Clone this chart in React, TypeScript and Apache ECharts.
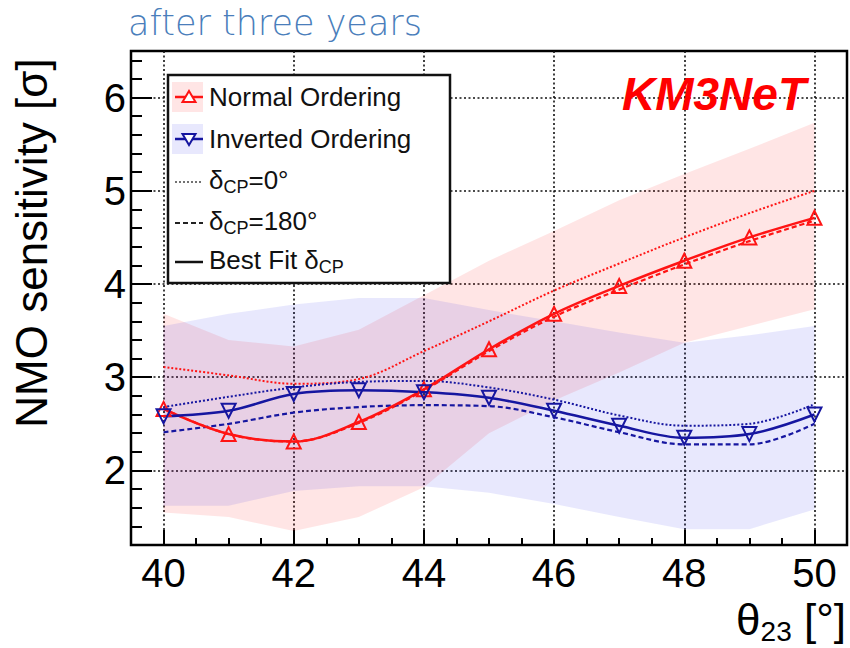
import React, { useEffect, useRef } from "react";
import * as echarts from "echarts";

// ---- data ----
const thetaDeg = [40, 41, 42, 43, 44, 45, 46, 47, 48, 49, 50];

// Normal ordering
const noBest = [2.66, 2.39, 2.31, 2.52, 2.87, 3.3, 3.68, 3.98, 4.25, 4.5, 4.71];
const noDelta0 = [3.11, 3.02, 2.93, 2.98, 3.28, 3.6, 3.93, 4.22, 4.5, 4.76, 5.0];
const noDelta180 = [2.66, 2.39, 2.31, 2.51, 2.86, 3.28, 3.65, 3.94, 4.21, 4.46, 4.68];
const noBandLow = [1.55, 1.5, 1.35, 1.5, 1.82, 2.4, 2.75, 3.05, 3.37, 3.55, 3.73];
const noBandHigh = [3.68, 3.4, 3.33, 3.51, 3.88, 4.25, 4.57, 4.9, 5.18, 5.45, 5.73];

// Inverted ordering
const ioBest = [2.58, 2.64, 2.82, 2.86, 2.84, 2.78, 2.64, 2.48, 2.35, 2.39, 2.6];
const ioDelta0 = [2.68, 2.79, 2.89, 2.95, 2.96, 2.89, 2.76, 2.59, 2.48, 2.5, 2.71];
const ioDelta180 = [2.41, 2.5, 2.62, 2.68, 2.7, 2.69, 2.57, 2.41, 2.28, 2.28, 2.5];
const ioBandLow = [1.62, 1.62, 1.78, 1.83, 1.83, 1.76, 1.64, 1.5, 1.37, 1.37, 1.58];
const ioBandHigh = [3.55, 3.68, 3.78, 3.85, 3.85, 3.72, 3.6, 3.48, 3.37, 3.45, 3.55];

// ticks
const xMajor = [40, 42, 44, 46, 48, 50];
const xMinor = [40.5, 41, 41.5, 42.5, 43, 43.5, 44.5, 45, 45.5, 46.5, 47, 47.5, 48.5, 49, 49.5];
const yMajor = [2, 3, 4, 5, 6];
const yMinor = [1.4, 1.6, 1.8, 2.2, 2.4, 2.6, 2.8, 3.2, 3.4, 3.6, 3.8, 4.2, 4.4, 4.6, 4.8, 5.2, 5.4, 5.6, 5.8, 6.2, 6.4];

const titleText = "after three years";
const yTitle = "NMO sensitivity [σ]";
const brand = "KM3NeT";

const FONT = "Liberation Sans";
const RED = "#ff1414";
const BLUE = "#1616a0";
const RED_FILL = "rgba(255,0,0,0.10)";
const BLUE_FILL = "rgba(0,0,235,0.09)";

function pairs(ys: number[]) {
  return thetaDeg.map((x, i) => [x, ys[i]]);
}

function band(name: string, low: number[], high: number[], fill: string) {
  return {
    type: "custom",
    name,
    silent: true,
    z: 1,
    clip: true,
    data: [[thetaDeg[0], low[0]]],
    encode: { x: 0, y: 1 },
    renderItem: (_params: any, api: any) => {
      const up = thetaDeg.map((x, i) => api.coord([x, high[i]]));
      const dn = thetaDeg.map((x, i) => api.coord([x, low[i]])).reverse();
      return {
        type: "polygon",
        shape: { points: up.concat(dn) },
        style: { fill, stroke: "none" },
      };
    },
  };
}

function line(name: string, ys: number[], color: string, type: any, width: number, marker: boolean, rotate: number) {
  return {
    type: "line",
    name,
    data: pairs(ys),
    smooth: 0.35,
    z: marker ? 4 : 3,
    symbol: marker ? "triangle" : "none",
    symbolSize: 14,
    symbolRotate: rotate,
    showSymbol: marker,
    lineStyle: { color, width, type },
    itemStyle: { color: "rgba(255,255,255,0)", borderColor: color, borderWidth: 2 },
    emphasis: { disabled: true },
  };
}

const LZ = 50;

function legendText(x: number, y: number, text: string) {
  return {
    type: "text",
    x,
    y,
    z: LZ + 2,
    style: {
      text,
      align: "left",
      verticalAlign: "middle",
      textAlign: "left",
      textVerticalAlign: "middle",
      rich: {
        a: { fontSize: 26, fontFamily: FONT, fill: "#111", lineHeight: 32 },
        s: { fontSize: 18, fontFamily: FONT, fill: "#111", lineHeight: 18, verticalAlign: "bottom" },
      },
    },
  };
}

function hline(y: number, stroke: string, lineWidth: number, lineDash?: number[]) {
  return {
    type: "polyline",
    z: LZ + 1,
    shape: { points: [[175, y], [203, y]] },
    style: { stroke, lineWidth, lineDash, fill: "none" },
  };
}

export default function App() {
  const ref = useRef<HTMLDivElement>(null);
  useEffect(() => {
    if (!ref.current) return;
    const chart = echarts.init(ref.current, undefined, { renderer: "svg" });
    const rowY = [97, 139, 182, 223, 262];
    const tx = 209;
    const option: any = {
      animation: false,
      backgroundColor: "#fff",
      title: {
        text: titleText,
        left: 128,
        top: 5,
        padding: 0,
        textStyle: { fontFamily: "DejaVu Sans", fontWeight: 200, fontSize: 35, color: "#4a7ebb" },
      },
      grid: {
        left: 131,
        right: 3,
        top: 51,
        bottom: 103,
        show: true,
        borderColor: "#000",
        borderWidth: 2.5,
        backgroundColor: "rgba(0,0,0,0)",
        containLabel: false,
        outerBoundsMode: "none",
      },
      xAxis: [
        {
          type: "value",
          min: 39.5,
          max: 50.5,
          position: "bottom",
          axisLine: { show: false },
          axisTick: { show: true, inside: true, length: 15, customValues: xMajor, lineStyle: { color: "#000", width: 2 } },
          axisLabel: { show: true, customValues: xMajor, margin: 8, fontSize: 40, color: "#000", fontFamily: FONT },
          splitLine: { show: true, lineStyle: { color: "#111", width: 1.6, type: [2, 2.5] } },
        },
        {
          type: "value",
          min: 39.5,
          max: 50.5,
          position: "bottom",
          axisLine: { show: false },
          axisTick: { show: true, inside: true, length: 7, customValues: xMinor, lineStyle: { color: "#000", width: 2 } },
          axisLabel: { show: false },
          splitLine: { show: false },
        },
      ],
      yAxis: [
        {
          type: "value",
          min: 1.2,
          max: 6.5,
          position: "left",
          axisLine: { show: false },
          axisTick: { show: true, inside: true, length: 21, customValues: yMajor, lineStyle: { color: "#000", width: 2 } },
          axisLabel: { show: true, customValues: yMajor, margin: 5, fontSize: 40, color: "#000", fontFamily: FONT },
          splitLine: { show: true, lineStyle: { color: "#111", width: 1.6, type: [2, 2.5] } },
        },
        {
          type: "value",
          min: 1.2,
          max: 6.5,
          position: "left",
          axisLine: { show: false },
          axisTick: { show: true, inside: true, length: 11, customValues: yMinor, lineStyle: { color: "#000", width: 2 } },
          axisLabel: { show: false },
          splitLine: { show: false },
        },
      ],
      series: [
        band("Normal Ordering band", noBandLow, noBandHigh, RED_FILL),
        band("Inverted Ordering band", ioBandLow, ioBandHigh, BLUE_FILL),
        line("NO δCP=0°", noDelta0, RED, [2, 2], 2, false, 0),
        line("NO δCP=180°", noDelta180, RED, [5, 3], 2.2, false, 0),
        line("IO δCP=0°", ioDelta0, BLUE, [2, 2], 2, false, 0),
        line("IO δCP=180°", ioDelta180, BLUE, [5, 3], 2.2, false, 0),
        line("Normal Ordering", noBest, RED, "solid", 2.5, true, 0),
        line("Inverted Ordering", ioBest, BLUE, "solid", 2.5, true, 180),
      ],
      graphic: [
        // y-axis title
        {
          type: "text",
          x: 31,
          y: 243,
          rotation: Math.PI / 2,
          style: {
            text: yTitle,
            fontSize: 44,
            fontFamily: FONT,
            fill: "#000",
            align: "center",
            verticalAlign: "middle",
            textAlign: "center",
            textVerticalAlign: "middle",
          },
        },
        // x-axis title
        {
          type: "text",
          x: 846,
          y: 619,
          style: {
            text: "{a|θ}{s|23}{a| [°]}",
            align: "right",
            verticalAlign: "middle",
            textAlign: "right",
            textVerticalAlign: "middle",
            rich: {
              a: { fontSize: 44, fontFamily: FONT, fill: "#000", lineHeight: 52 },
              s: { fontSize: 28, fontFamily: FONT, fill: "#000", lineHeight: 28, verticalAlign: "bottom" },
            },
          },
        },
        // brand
        {
          type: "text",
          x: 622,
          y: 94,
          z: 10,
          style: {
            text: brand,
            fontSize: 46,
            fontFamily: FONT,
            fontWeight: "bold",
            fontStyle: "italic",
            fill: "#ff0000",
            align: "left",
            verticalAlign: "middle",
            textAlign: "left",
            textVerticalAlign: "middle",
          },
        },
        // legend
        { type: "rect", z: LZ, shape: { x: 168, y: 75, width: 282, height: 208 }, style: { fill: "#fff", stroke: "#111", lineWidth: 2.5 } },
        { type: "rect", z: LZ + 1, shape: { x: 172, y: 82, width: 31, height: 30 }, style: { fill: RED_FILL } },
        hline(rowY[0], RED, 2.5),
        { type: "polygon", z: LZ + 2, shape: { points: [[189, rowY[0] - 6], [195.5, rowY[0] + 5], [182.5, rowY[0] + 5]] }, style: { fill: "#fff", stroke: RED, lineWidth: 2 } },
        { type: "rect", z: LZ + 1, shape: { x: 172, y: 124, width: 31, height: 30 }, style: { fill: BLUE_FILL } },
        hline(rowY[1], BLUE, 2.5),
        { type: "polygon", z: LZ + 2, shape: { points: [[182.5, rowY[1] - 5], [195.5, rowY[1] - 5], [189, rowY[1] + 6]] }, style: { fill: "#fff", stroke: BLUE, lineWidth: 2 } },
        hline(rowY[2], "#444", 1.6, [2, 2]),
        hline(rowY[3], "#222", 2.2, [5, 3]),
        hline(rowY[4], "#111", 2.5),
        legendText(tx, rowY[0], "{a|Normal Ordering}"),
        legendText(tx, rowY[1], "{a|Inverted Ordering}"),
        legendText(tx, rowY[2] - 2, "{a|δ}{s|CP}{a|=0°}"),
        legendText(tx, rowY[3] - 2, "{a|δ}{s|CP}{a|=180°}"),
        legendText(tx, rowY[4] - 2, "{a|Best Fit δ}{s|CP}"),
      ],
    };
    chart.setOption(option);
    return () => chart.dispose();
  }, []);
  return (
    <div
      ref={ref}
      style={{ position: "fixed", left: 0, top: 0, width: 850, height: 648, background: "#fff" }}
    />
  );
}
